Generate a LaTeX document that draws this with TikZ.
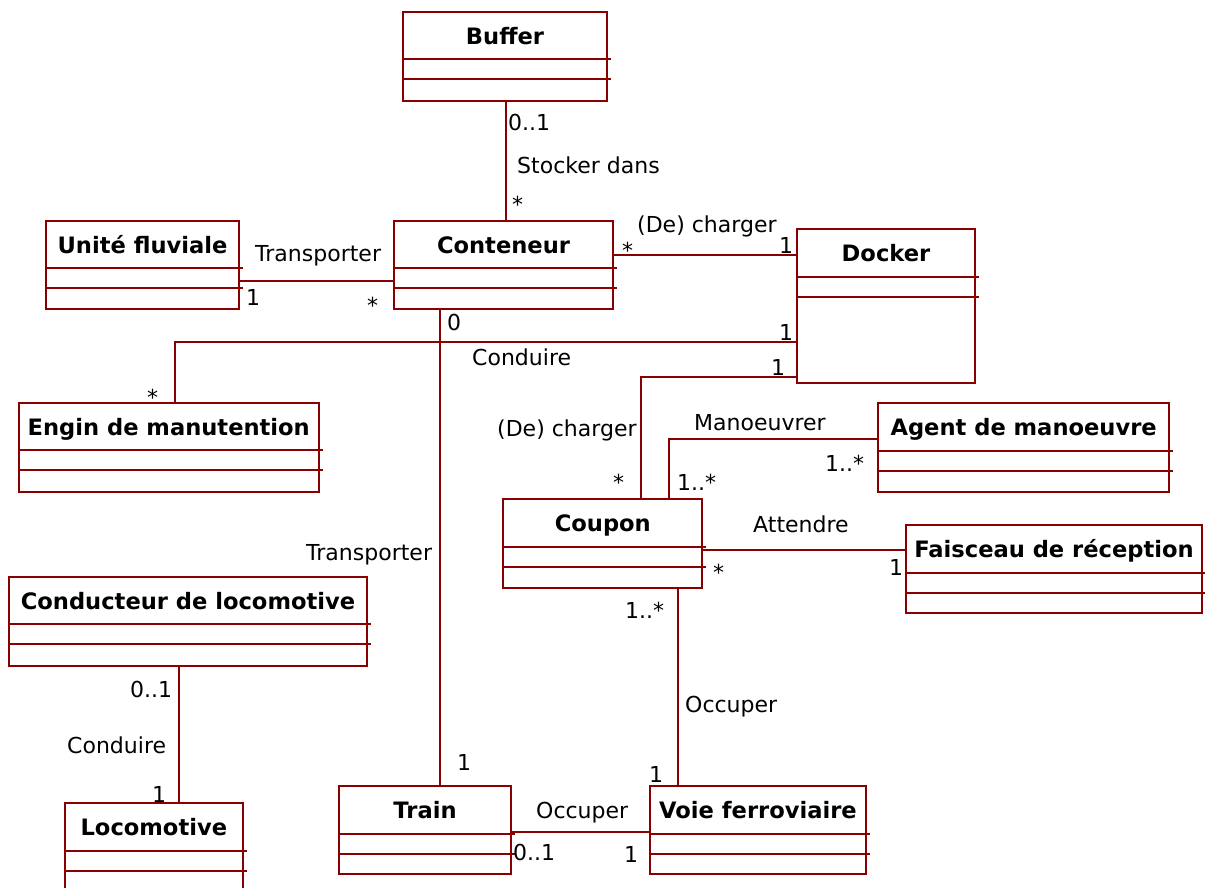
\documentclass[tikz,border=0pt]{standalone}
\usepackage{fontspec}
\setmainfont{DejaVu Sans}
\usetikzlibrary{calc}
\definecolor{umlred}{RGB}{136,0,0}
\tikzset{
  clsbox/.style={draw=umlred, line width=2pt, inner sep=0pt, outer sep=0pt, anchor=north west, rectangle},
  clsline/.style={draw=umlred, line width=2pt},
  clstitle/.style={anchor=base, inner sep=0pt, font=\bfseries\fontsize{22.6}{26}\selectfont, text=black},
  assoc/.style={draw=umlred, line width=2pt},
  lbl/.style={anchor=base west, inner sep=0pt, font=\fontsize{22}{26}\selectfont, text=black},
}
\newcommand\umlclass[6]{%
  \node[clsbox, minimum width={(#5)-(#3)}, minimum height={(#6)-(#4)}] (#1) at (#3,#4) {};
  \draw[clsline] ([yshift=-47.5pt]#1.north west) -- ([yshift=-47.5pt,xshift=4pt]#1.north east);
  \draw[clsline] ([yshift=-67.5pt]#1.north west) -- ([yshift=-67.5pt,xshift=4pt]#1.north east);
  \node[clstitle] (#1-title) at ([yshift=-32.5pt]#1.north) {#2};
}
\begin{document}
\begin{tikzpicture}[x=1pt,y=-1pt]
\useasboundingbox (0,0) rectangle (1205,887);

% classes
\umlclass{buffer}{Buffer}{403}{11.7}{607}{101}
\umlclass{conteneur}{Conteneur}{394}{220.7}{613}{309}
\umlclass{unite}{Unité fluviale}{46}{220.7}{239}{309.3}
\umlclass{docker}{Docker}{797}{229.3}{975}{383.3}
\umlclass{engin}{Engin de manutention}{19}{402.7}{318.5}{492.3}
\umlclass{agent}{Agent de manoeuvre}{878.3}{403.3}{1169}{491.7}
\umlclass{coupon}{Coupon}{503.3}{499}{702.3}{588}
\umlclass{faisceau}{Faisceau de réception}{906}{525}{1202}{613.3}
\umlclass{conducteur}{Conducteur de locomotive}{9.3}{576.7}{366.7}{666}
\umlclass{loco}{Locomotive}{65}{803}{242.7}{897}
\umlclass{train}{Train}{339}{786}{511}{874.3}
\umlclass{voie}{Voie ferroviaire}{650}{786}{866}{874.3}

% connector guide coordinates
\coordinate (bcx) at (506,0);
\coordinate (ucy) at (0,281);
\coordinate (cdy) at (0,255);
\coordinate (dey) at (0,342);
\coordinate (dex) at (174.5,0);
\coordinate (ctx) at (440,0);
\coordinate (dcy) at (0,377);
\coordinate (dcx) at (641,0);
\coordinate (cax) at (669,0);
\coordinate (cay) at (0,438.5);
\coordinate (cfy) at (0,550);
\coordinate (cvx) at (677.5,0);
\coordinate (tvy) at (0,831.5);
\coordinate (clx) at (179,0);

% connectors
\draw[assoc] (buffer.south -| bcx) -- (conteneur.north -| bcx);
\draw[assoc] (unite.east |- ucy) -- (conteneur.west |- ucy);
\draw[assoc] (conteneur.east |- cdy) -- (docker.west |- cdy);
\draw[assoc] (docker.west |- dey) -| (engin.north -| dex);
\draw[assoc] (conteneur.south -| ctx) -- (train.north -| ctx);
\draw[assoc] (docker.west |- dcy) -| (coupon.north -| dcx);
\draw[assoc] (coupon.north -| cax) |- (agent.west |- cay);
\draw[assoc] (coupon.east |- cfy) -- (faisceau.west |- cfy);
\draw[assoc] (coupon.south -| cvx) -- (voie.north -| cvx);
\draw[assoc] (train.east |- tvy) -- (voie.west |- tvy);
\draw[assoc] (conducteur.south -| clx) -- (loco.north -| clx);

% labels
\node[lbl] (l1) at (508,130) {0..1};
\node[lbl] (l2) at (517,173) {Stocker dans};
\node[lbl] (l3) at (512,212) {*};
\node[lbl] (l4) at (622,258) {*};
\node[lbl] (l5) at (637,232) {(De) charger};
\node[lbl] (l6) at (779,253) {1};
\node[lbl] (l7) at (255,261) {Transporter};
\node[lbl] (l8) at (246,305) {1};
\node[lbl] (l9) at (367,313) {*};
\node[lbl] (l10) at (447,330) {0};
\node[lbl] (l11) at (779,340.5) {1};
\node[lbl] (l12) at (472,365.7) {Conduire};
\node[lbl] (l13) at (147,405) {*};
\node[lbl] (l14) at (771,375) {1};
\node[lbl] (l15) at (497,436) {(De) charger};
\node[lbl] (l16) at (613,490) {*};
\node[lbl] (l17) at (694,430) {Manoeuvrer};
\node[lbl] (l18) at (677,490) {1..*};
\node[lbl] (l19) at (825,471) {1..*};
\node[lbl] (l20) at (753,532) {Attendre};
\node[lbl] (l21) at (713,580) {*};
\node[lbl] (l22) at (889,575) {1};
\node[lbl] (l23) at (306,560) {Transporter};
\node[lbl] (l24) at (625,618) {1..*};
\node[lbl] (l25) at (685,712) {Occuper};
\node[lbl] (l26) at (649,782) {1};
\node[lbl] (l27) at (457,770) {1};
\node[lbl] (l28) at (536,818) {Occuper};
\node[lbl] (l29) at (513,860) {0..1};
\node[lbl] (l30) at (624,862) {1};
\node[lbl] (l31) at (130,697) {0..1};
\node[lbl] (l32) at (67,753) {Conduire};
\node[lbl] (l33) at (152,802) {1};
\end{tikzpicture}
\end{document}
